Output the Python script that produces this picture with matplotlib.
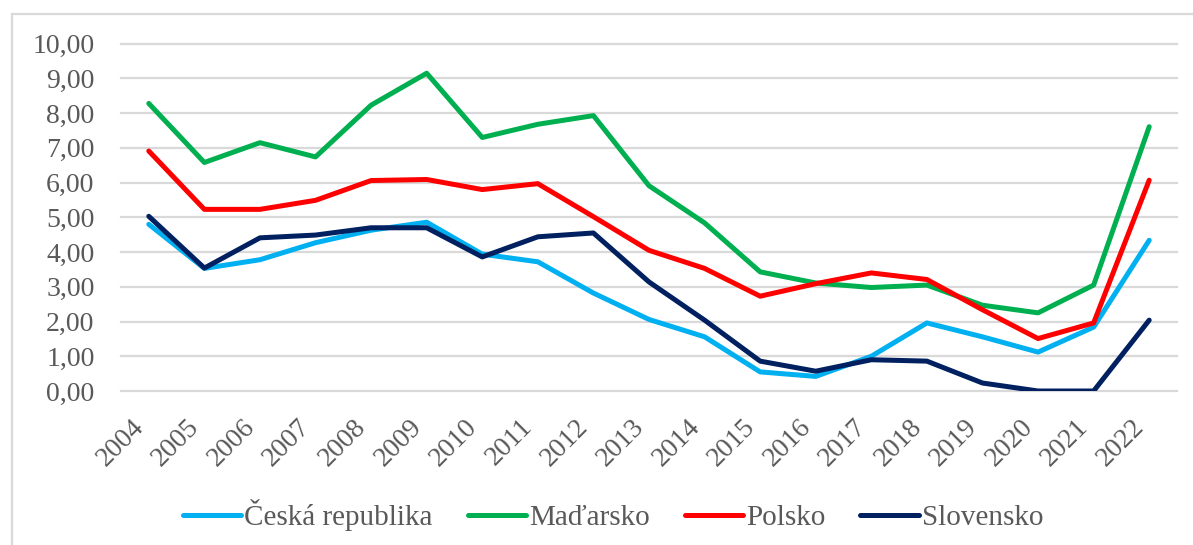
import matplotlib.pyplot as plt
from matplotlib.patches import Rectangle

# data
years = [str(y) for y in range(2004, 2023)]
cesko = [4.80, 3.53, 3.78, 4.27, 4.63, 4.86, 3.94, 3.72, 2.82, 2.06, 1.56,
         0.55, 0.42, 1.00, 1.96, 1.56, 1.12, 1.84, 4.34]
madarsko = [8.28, 6.58, 7.15, 6.74, 8.23, 9.15, 7.30, 7.68, 7.93, 5.91, 4.84,
            3.43, 3.11, 2.98, 3.05, 2.47, 2.25, 3.05, 7.61]
polsko = [6.91, 5.23, 5.23, 5.49, 6.06, 6.09, 5.80, 5.97, 5.02, 4.05, 3.53,
          2.73, 3.09, 3.40, 3.21, 2.34, 1.51, 1.96, 6.07]
slovensko = [5.03, 3.54, 4.41, 4.49, 4.70, 4.70, 3.86, 4.44, 4.55, 3.14, 2.04,
             0.86, 0.57, 0.90, 0.86, 0.23, 0.00, 0.00, 2.04]
names = ["Česká republika", "Maďarsko", "Polsko", "Slovensko"]
colors = ["#00b0f0", "#00b050", "#ff0000", "#002060"]

plt.rcParams['font.family'] = ['Liberation Serif', 'DejaVu Serif']

W, H = 1193, 545
fig = plt.figure(figsize=(W / 100, H / 100), dpi=100)

# light grey frame around the chart (cut off at right and bottom)
fig.patches.append(Rectangle((12 / W, -0.1), 1.2, 1.1 - 14 / H, transform=fig.transFigure,
                             fill=False, edgecolor="#d9d9d9", linewidth=1.6))

ax = fig.add_axes([121 / W, 1 - 391 / H, (1177 - 121) / W, (391 - 43.7) / H])

x = range(len(years))
for vals, name, col in zip([cesko, madarsko, polsko, slovensko], names, colors):
    ax.plot(x, vals, color=col, linewidth=3.6, label=name,
            solid_capstyle="round", solid_joinstyle="round", zorder=3)

ax.set_xlim(-0.5, len(years) - 0.5)
ax.set_ylim(0, 10)
ax.set_yticks(range(0, 11))
ax.set_yticklabels([f"{v},00" for v in range(0, 11)])
ax.set_xticks(list(x))
ax.set_xticklabels(years, rotation=45, ha="right", va="top")

ax.grid(axis="y", color="#d9d9d9", linewidth=1.6, zorder=0)
for gl in ax.get_ygridlines():
    gl.set_clip_on(False)
for s in ax.spines.values():
    s.set_visible(False)
ax.tick_params(axis="both", length=0, labelsize=20, labelcolor="#595959")
ax.tick_params(axis="y", pad=19)
ax.tick_params(axis="x", pad=17)

fig.legend(loc="center", bbox_to_anchor=(613 / W, 1 - 515 / H), ncol=4, frameon=False,
           fontsize=21, handlelength=2.0, handletextpad=0.1, columnspacing=1.2,
           labelcolor="#595959")

fig.savefig("out.png", dpi=100)
